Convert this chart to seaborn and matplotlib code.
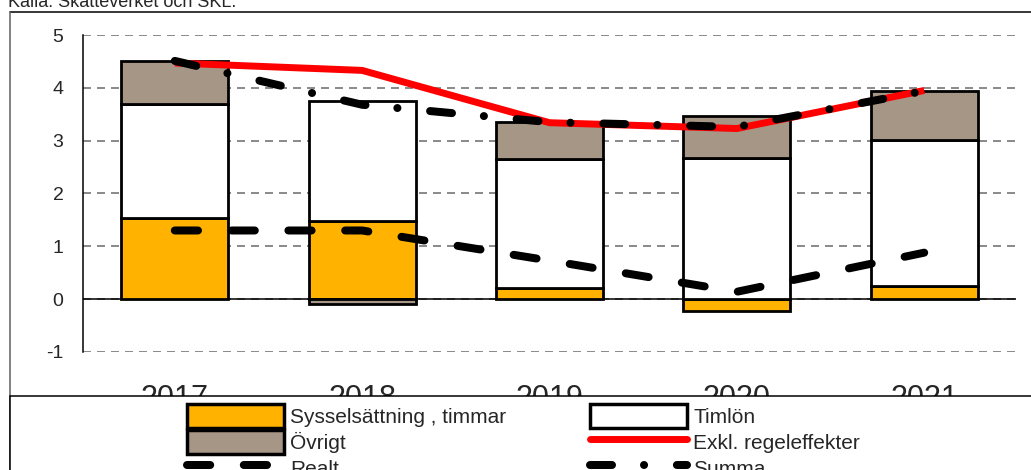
import numpy as np
import pandas as pd
import matplotlib
matplotlib.use("Agg")
import matplotlib.pyplot as plt
import seaborn as sns
from matplotlib.patches import Rectangle, Patch
from matplotlib.lines import Line2D

# ---------------- data ----------------
years = ["2017", "2018", "2019", "2020", "2021"]
syssel = [1.53, 1.48, 0.22, -0.22, 0.24]      # Sysselsättning, timmar
timlon = [2.16, 2.27, 2.43, 2.68, 2.77]       # Timlön
ovrigt = [0.82, -0.09, 0.70, 0.79, 0.93]      # Övrigt
exkl = [4.47, 4.33, 3.34, 3.23, 3.95]         # Exkl. regeleffekter
summa = [4.51, 3.68, 3.35, 3.26, 3.94]        # Summa
realt = [1.30, 1.30, 0.73, 0.14, 0.88]        # Realt
yticks = [-1, 0, 1, 2, 3, 4, 5]
source = "Källa: Skatteverket och SKL."
lab_syssel = "Sysselsättning , timmar"
lab_timlon = "Timlön"
lab_ovrigt = "Övrigt"
lab_exkl = "Exkl. regeleffekter"
lab_realt = "Realt"
lab_summa = "Summa"

# ---------------- style ----------------
sns.set_style("white")
plt.rcParams["font.family"] = ["Liberation Sans", "DejaVu Sans"]
plt.rcParams["axes.unicode_minus"] = False

C_SYS = "#FFB300"
C_OVR = "#A69686"
C_TIM = "#FFFFFF"
C_RED = "#FF0000"

W, H = 1031, 470
fig = plt.figure(figsize=(W / 100, H / 100), dpi=100)
ax = fig.add_axes([83 / W, 1 - 352 / H, 933 / W, 317 / H])

# stacked bars (positive up, negative down)
pos_base = np.zeros(len(years))
neg_base = np.zeros(len(years))
for vals, col in [(syssel, C_SYS), (timlon, C_TIM), (ovrigt, C_OVR)]:
    v = np.array(vals, dtype=float)
    bottom = np.where(v >= 0, pos_base, neg_base)
    df = pd.DataFrame({"year": years, "val": v})
    sns.barplot(data=df, x="year", y="val", bottom=bottom, color=col,
                saturation=1, width=0.57, errorbar=None, edgecolor="black",
                linewidth=2.0, ax=ax, zorder=3)
    pos_base += np.where(v >= 0, v, 0)
    neg_base += np.where(v < 0, v, 0)

LW = 5.76
REALT_DASH = (0, (2.9, 4.2))
SUMMA_DASH = (0, (2.75, 4.0, 0.01, 4.1))

sns.lineplot(x=years, y=realt, ax=ax, color="black", linewidth=LW,
             linestyle=REALT_DASH, dash_capstyle="round", zorder=4)
sns.lineplot(x=years, y=exkl, ax=ax, color=C_RED, linewidth=5.0,
             solid_capstyle="butt", zorder=5)
sns.lineplot(x=years, y=summa, ax=ax, color="black", linewidth=LW,
             linestyle=SUMMA_DASH, dash_capstyle="round", zorder=6)

ax.axhline(0, color="black", linewidth=1.1, zorder=2)

ax.set_ylim(-1, 5)
ax.set_xlim(-0.49, 4.49)
ax.set_yticks(yticks)
ax.set_xlabel("")
ax.set_ylabel("")
ax.tick_params(axis="y", length=0, pad=14, labelsize=14)
ax.tick_params(axis="x", length=0, pad=23, labelsize=22)
ax.set_axisbelow(True)
ax.yaxis.grid(True, color="#8C8C8C", linestyle=(0, (4, 3)), linewidth=1.44)
ax.xaxis.grid(False)
for s in ["top", "right", "bottom"]:
    ax.spines[s].set_visible(False)
ax.spines["left"].set_color("black")
ax.spines["left"].set_linewidth(1.1)

# ---------------- frame decorations ----------------
fig.add_artist(Line2D([10 / W, 1], [1 - 12 / H, 1 - 12 / H], transform=fig.transFigure,
                      color="black", linewidth=1.1))
fig.add_artist(Line2D([10 / W, 10 / W], [0, 1 - 12 / H], transform=fig.transFigure,
                      color="#606060", linewidth=1.1))
fig.add_artist(Rectangle((10 / W, -0.1), 1.0, (470 - 396) / H + 0.1,
                         transform=fig.transFigure, facecolor="white",
                         edgecolor="black", linewidth=1.1, zorder=10))

fig.text(8 / W, 1 - 7 / H, source, fontsize=13, va="baseline", ha="left")

# ---------------- legend ----------------
h_sys = Patch(facecolor=C_SYS, edgecolor="black", linewidth=2.5)
h_ovr = Patch(facecolor=C_OVR, edgecolor="black", linewidth=2.5)
h_tim = Patch(facecolor=C_TIM, edgecolor="black", linewidth=2.5)
h_red = Line2D([], [], color=C_RED, linewidth=5.0, solid_capstyle="round")
h_realt = Line2D([], [], color="black", linewidth=LW, linestyle=REALT_DASH,
                 dash_capstyle="round")
h_summa = Line2D([], [], color="black", linewidth=LW, linestyle=SUMMA_DASH,
                 dash_capstyle="round")

leg_kw = dict(fontsize=15, handlelength=4.66, handleheight=1.42, handletextpad=0.29,
              labelspacing=0.07, borderpad=0, borderaxespad=0, frameon=False,
              loc="upper left", bbox_transform=fig.transFigure)
leg1 = fig.legend([h_sys, h_ovr, h_realt], [lab_syssel, lab_ovrigt, lab_realt],
                  bbox_to_anchor=(187 / W, 1 - 404 / H), **leg_kw)
leg2 = fig.legend([h_tim, h_red, h_summa], [lab_timlon, lab_exkl, lab_summa],
                  bbox_to_anchor=(590 / W, 1 - 404 / H), **leg_kw)
leg1.set_zorder(11)
leg2.set_zorder(11)

fig.savefig("out.png", dpi=100)
